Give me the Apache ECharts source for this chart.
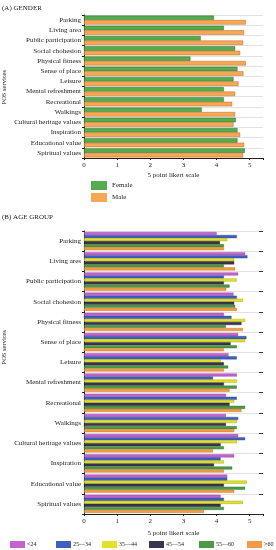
<!DOCTYPE html>
<html><head><meta charset="utf-8">
<script src="https://cdn.jsdelivr.net/npm/echarts@6/dist/echarts.min.js"></script>
<style>html,body{margin:0;padding:0;background:#fff}#c{width:276px;height:550px}</style>
</head><body><div id="c"></div>
<script>
const catsA = ['Parking','Living area','Public participation','Social chohesion','Physical fitness','Sense of place','Leisure','Mental refreshment','Recreational','Walkings','Cultural heritage values','Inspiration','Educational value','Spiritual values'];
const catsB = ['Parking','Living ares','Public participation','Social chohesion','Physical fitness','Sense of place','Leisure','Mental refreshment','Recreational','Walkings','Cultural heritage values','Inspiration','Educational value','Spiritual values'];
const female = [3.92,4.22,3.52,4.56,3.21,4.63,4.51,4.22,4.22,3.55,4.58,4.63,4.63,4.85];
const male   = [4.88,4.83,4.80,4.71,4.88,4.81,4.66,4.56,4.47,4.56,4.51,4.71,4.83,4.80];
const ageNames = ['<24','25—34','35—44','45—54','55—60','>60'];
const ageLt24  = [4.00,4.86,4.65,4.51,4.22,4.65,4.36,4.61,4.28,4.28,4.65,4.53,4.32,4.12];
const age25_34 = [4.61,4.93,4.22,4.61,4.45,4.90,4.61,3.89,4.61,4.65,4.86,4.12,4.32,4.22];
const age35_44 = [4.32,4.53,4.61,4.79,4.86,4.86,4.12,4.61,4.53,4.61,4.61,4.22,4.91,4.79];
const age45_54 = [4.10,4.53,4.22,4.53,4.75,4.42,4.22,4.22,4.39,4.28,4.12,3.92,4.22,4.12];
const age55_60 = [4.22,4.22,4.39,4.56,4.28,4.61,4.35,4.61,4.86,4.61,4.22,4.47,4.86,4.22];
const ageGt60  = [4.22,4.56,4.29,4.61,4.79,4.22,4.22,4.39,4.75,4.53,3.89,4.22,4.53,3.62];
const xTicks = [0,1,2,3,4,5];

const F = 'Liberation Serif';
const ageData = [ageLt24, age25_34, age35_44, age45_54, age55_60, ageGt60];
const ageColors = ['#c462cf','#3f5fbf','#e2e228','#3b3450','#4b9a45','#f59b45'];
const ageBorders = ['#8a3a94','#2a3f85','#9a9a10','#1d1828','#2e6a2a','#b86a20'];

function xAxis(grid){
  return {gridIndex:grid,type:'value',min:0,max:5.4,interval:1,
    name:'5 point likert scale',nameLocation:'middle',nameGap:14,
    nameTextStyle:{fontFamily:F,fontSize:7,color:'#222'},
    axisLine:{show:true,lineStyle:{color:'#222',width:1}},
    axisTick:{show:true,length:2,lineStyle:{color:'#222'}},
    axisLabel:{fontFamily:F,fontSize:7,color:'#222',margin:4,
      formatter:v=>xTicks.includes(v)?String(v):''},
    splitLine:{show:false}};
}
function yAxis(grid,cats){
  return {gridIndex:grid,type:'category',data:cats,inverse:true,
    axisLine:{show:true,lineStyle:{color:'#222',width:1}},
    axisTick:{show:true,length:2,lineStyle:{color:'#222'}},
    axisLabel:{fontFamily:F,fontSize:7,color:'#222',margin:3},
    splitLine:{show:true,lineStyle:{color:'#e2e2e2',width:1}}};
}
const series = [
  {name:'Female',type:'bar',xAxisIndex:0,yAxisIndex:0,data:female,barGap:'0%',barCategoryGap:'12%',
    itemStyle:{color:'#55ab4e',borderColor:'#2f6e2a',borderWidth:0.5}},
  {name:'Male',type:'bar',xAxisIndex:0,yAxisIndex:0,data:male,barGap:'0%',barCategoryGap:'12%',
    itemStyle:{color:'#f9a655',borderColor:'#b56d25',borderWidth:0.5}}
];
ageNames.forEach((n,i)=>series.push({name:n,type:'bar',xAxisIndex:1,yAxisIndex:1,data:ageData[i],
  barGap:'0%',barCategoryGap:'10%',itemStyle:{color:ageColors[i],borderColor:ageBorders[i],borderWidth:0.4}}));

const legX = [10,56,102,149,199,247];
const legends = [{orient:'vertical',left:86,top:176,itemWidth:16,itemHeight:9,itemGap:3,icon:'rect',
  itemStyle:{borderWidth:0},
  data:['Female','Male'],textStyle:{fontFamily:F,fontSize:7,color:'#222'}}];
ageNames.forEach((n,i)=>legends.push({left:legX[i],top:541,itemWidth:15,itemHeight:7,icon:'rect',
  data:[n],textStyle:{fontFamily:F,fontSize:6,color:'#222',padding:[0,0,0,-3]},padding:0,itemStyle:{borderWidth:0}}));

const chart = echarts.init(document.getElementById('c'),null,{renderer:'canvas'});
chart.setOption({
  animation:false,
  title:[{text:'(A) GENDER',left:2,top:5,padding:0,textStyle:{fontFamily:F,fontSize:7,fontWeight:'normal',color:'#222'}},
         {text:'(B) AGE GROUP',left:2,top:214,padding:0,textStyle:{fontFamily:F,fontSize:7,fontWeight:'normal',color:'#222'}}],
  grid:[{left:84,right:13,top:15,height:143},{left:84,right:13,top:231,height:283}],
  xAxis:[xAxis(0),xAxis(1)],
  yAxis:[yAxis(0,catsA),yAxis(1,catsB),
    {gridIndex:1,type:'category',data:catsB,inverse:true,position:'right',
      axisLine:{show:false},axisTick:{show:true,inside:true,length:4,lineStyle:{color:'#333'}},
      axisLabel:{show:false},splitLine:{show:false}}],
  legend:legends,
  graphic:[
    {type:'text',left:1,top:70,rotation:Math.PI/2,style:{text:'POS services',font:'6.5px "Liberation Serif"',fill:'#222'}},
    {type:'text',left:1,top:330,rotation:Math.PI/2,style:{text:'POS services',font:'6.5px "Liberation Serif"',fill:'#222'}}
  ],
  series:series
});
</script></body></html>
